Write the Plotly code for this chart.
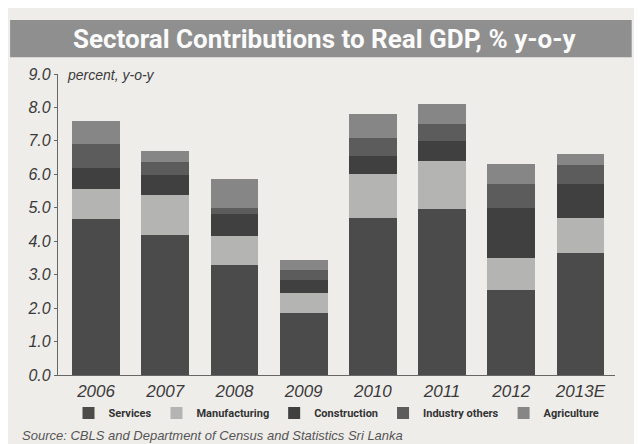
import plotly.graph_objects as go

years = ["2006", "2007", "2008", "2009", "2010", "2011", "2012", "2013E"]
services = [4.65, 4.20, 3.30, 1.85, 4.70, 4.95, 2.55, 3.65]
manufacturing = [0.90, 1.17, 0.85, 0.60, 1.30, 1.45, 0.95, 1.05]
construction = [0.65, 0.60, 0.65, 0.40, 0.55, 0.60, 1.50, 1.00]
industry_others = [0.70, 0.40, 0.20, 0.30, 0.55, 0.50, 0.72, 0.57]
agriculture = [0.70, 0.33, 0.85, 0.30, 0.70, 0.60, 0.58, 0.33]
y_ticks = [0, 1, 2, 3, 4, 5, 6, 7, 8, 9]

series = [
    ("Services", services, "#4b4b4b"),
    ("Manufacturing", manufacturing, "#b4b4b2"),
    ("Construction", construction, "#404040"),
    ("Industry others", industry_others, "#5c5c5c"),
    ("Agriculture", agriculture, "#868686"),
]

fig = go.Figure()
for name, vals, col in series:
    fig.add_trace(go.Bar(x=years, y=vals, name=name, marker=dict(color=col, line=dict(width=0))))

bg = "#efedea"
fig.update_layout(
    barmode="stack",
    bargap=0.31,
    width=634, height=436,
    margin=dict(l=50, r=27, t=66, b=69),
    paper_bgcolor=bg, plot_bgcolor=bg,
    font=dict(family="Liberation Sans", color="#3a3a3a"),
    showlegend=True,
    legend=dict(orientation="h", x=0.5, xanchor="center", y=-0.126, yanchor="middle",
                font=dict(family="Roboto", size=11, color="#333", weight="bold"),
                itemwidth=30, bgcolor="rgba(0,0,0,0)", traceorder="normal",
                tracegroupgap=0, itemclick=False),
    xaxis=dict(range=[-0.55, 7.5], showline=True, linecolor="#666", linewidth=1.2,
               ticks="", tickfont=dict(size=17, family="Liberation Sans", color="#3a3a3a"),
               tickvals=years, ticktext=[f"<i>{y}</i>" for y in years],
               showgrid=False, zeroline=False),
    yaxis=dict(range=[0, 9], tickvals=y_ticks, ticktext=[f"<i>{v:.1f}</i>" for v in y_ticks],
               showline=True, linecolor="#666", linewidth=1.2, ticks="outside", ticklen=3,
               tickcolor="#666", tickfont=dict(size=16, color="#3a3a3a"),
               showgrid=False, zeroline=False),
)

# title banner
fig.add_shape(type="rect", xref="paper", yref="paper", x0=-0.086, x1=1.03, y0=1.056, y1=1.179,
              fillcolor="#8f8f8f", line=dict(width=0), layer="below")
fig.add_annotation(xref="paper", yref="paper", x=0.479, y=1.117,
                   text="<b>Sectoral Contributions to Real GDP, % y-o-y</b>",
                   showarrow=False, font=dict(family="Roboto", size=26, color="#fbfbfb"),
                   xanchor="center", yanchor="middle")
fig.add_annotation(xref="paper", yref="paper", x=0.0126, y=0.997, text="<i>percent, y-o-y</i>",
                   showarrow=False, font=dict(size=14, color="#3a3a3a"), xanchor="left", yanchor="middle")
fig.add_annotation(xref="paper", yref="paper", x=-0.068, y=-0.2,
                   text="<i>Source: CBLS and Department of Census and Statistics Sri Lanka</i>",
                   showarrow=False, font=dict(size=13, color="#555"), xanchor="left", yanchor="middle")

fig.write_html("out.html")
